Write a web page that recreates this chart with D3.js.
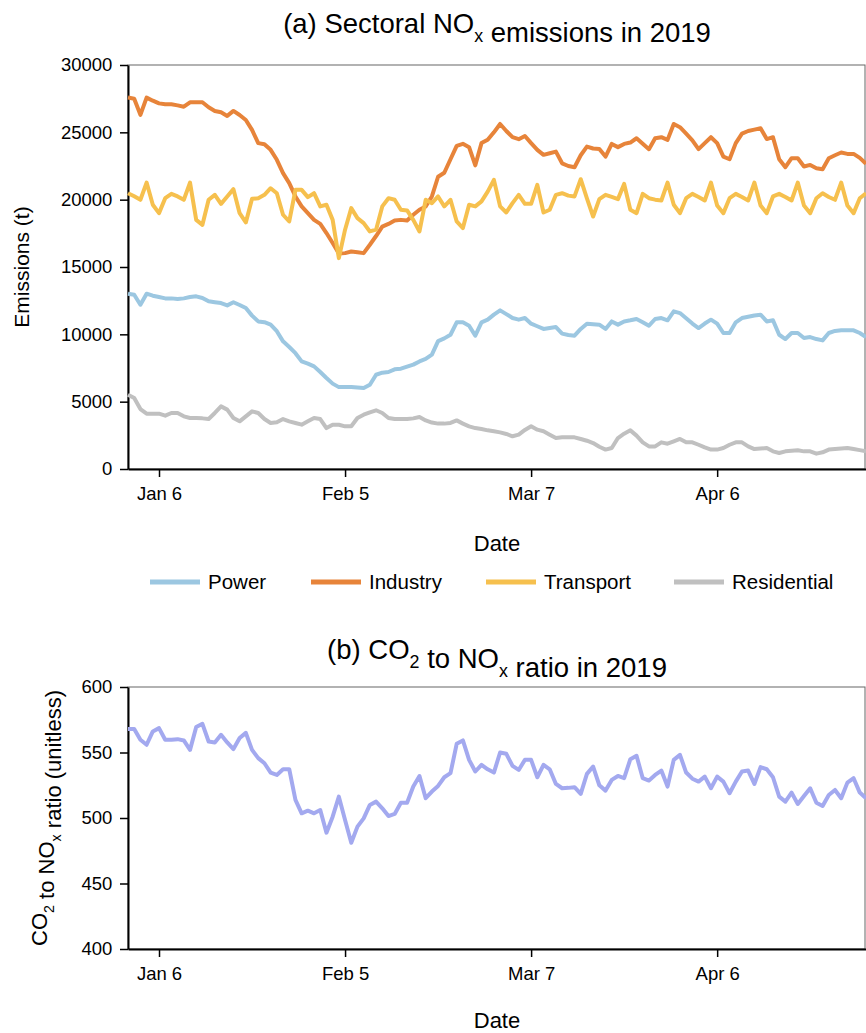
<!DOCTYPE html>
<html>
<head>
<meta charset="utf-8">
<script src="https://cdn.jsdelivr.net/npm/d3@7"></script>
<style>
  body { margin: 0; background: #fff; }
  text { font-family: "Liberation Sans", Arial, sans-serif; fill: #000; }
</style>
</head>
<body>
<svg id="chart" width="866" height="1033"></svg>
<script>
// daily values, 1 Jan 2019 .. 30 Apr 2019
const startDate = new Date(2019, 0, 1)
const endDate = new Date(2019, 4, 1)
const dates = d3.timeDay.range(startDate, endDate)
const tickDates = [new Date(2019, 0, 6), new Date(2019, 1, 5), new Date(2019, 2, 7), new Date(2019, 3, 6)]

const power = [13020, 12940, 12200, 13020, 12870, 12770, 12670, 12670, 12620, 12670,
  12770, 12820, 12700, 12450, 12380, 12320, 12150, 12380, 12180, 11950,
  11390, 10960, 10900, 10720, 10230, 9480, 9060, 8600, 7990, 7820,
  7620, 7200, 6760, 6340, 6080, 6090, 6090, 6050, 6010, 6260,
  7000, 7150, 7200, 7400, 7450, 7600, 7750, 7990, 8170, 8490,
  9500, 9700, 9970, 10890, 10890, 10640, 9900, 10890, 11090, 11460,
  11780, 11500, 11210, 11090, 11210, 10790, 10600, 10400, 10470, 10540,
  10050, 9950, 9900, 10400, 10790, 10750, 10720, 10400, 10960, 10720,
  10960, 11040, 11140, 10900, 10640, 11140, 11210, 11040, 11710, 11580,
  11200, 10800, 10470, 10800, 11090, 10790, 10100, 10100, 10890, 11210,
  11300, 11400, 11460, 10960, 11040, 9970, 9650, 10100, 10100, 9730,
  9800, 9650, 9550, 10100, 10250, 10300, 10300, 10300, 10100, 9800]

const industry = [27580, 27500, 26300, 27580, 27350, 27150, 27080, 27080, 27000, 26900,
  27230, 27230, 27230, 26860, 26590, 26490, 26220, 26590, 26290, 25920,
  25180, 24200, 24120, 23700, 22960, 21970, 21230, 20240, 19500, 19000,
  18500, 18200, 17520, 16780, 16000, 16030, 16150, 16100, 16030, 16650,
  17300, 18000, 18200, 18450, 18500, 18450, 18880, 19250, 19500, 20240,
  21700, 22000, 23000, 24000, 24150, 23900, 22550, 24200, 24450, 25000,
  25620, 25100, 24640, 24490, 24730, 24200, 23700, 23330, 23450, 23570,
  22700, 22500, 22410, 23300, 23940, 23800, 23770, 23200, 24140, 23900,
  24140, 24240, 24560, 24150, 23750, 24560, 24640, 24440, 25620, 25380,
  24900, 24400, 23750, 24200, 24640, 24200, 23200, 23000, 24200, 24900,
  25100, 25200, 25300, 24500, 24640, 23000, 22410, 23080, 23080, 22460,
  22580, 22340, 22260, 23080, 23300, 23500, 23400, 23400, 23100, 22660]

const transport = [20480, 20250, 19990, 21270, 19620, 19000, 20110, 20430, 20240, 19990,
  21270, 18500, 18130, 19990, 20360, 19690, 20240, 20780, 19000, 18310,
  20060, 20110, 20360, 20850, 20480, 18880, 18380, 20730, 20730, 20190,
  20480, 19500, 19620, 18500, 15660, 17770, 19370, 18630, 18260, 17640,
  17770, 19500, 20110, 19990, 19250, 19200, 18500, 17640, 19990, 19740,
  20240, 19500, 19990, 18380, 17890, 19620, 19500, 19870, 20600, 21470,
  19500, 19050, 19740, 20360, 19690, 19690, 21100, 19050, 19250, 20360,
  20480, 20300, 20240, 21520, 20100, 18750, 20040, 20360, 20200, 20040,
  21170, 19250, 19000, 20430, 20110, 20000, 19940, 21270, 19620, 19000,
  20110, 20430, 20200, 19940, 21270, 19570, 19000, 20110, 20430, 20200,
  19940, 21270, 19570, 19000, 20240, 20430, 20200, 19940, 21270, 19570,
  19000, 20110, 20480, 20200, 19990, 21270, 19570, 19000, 20110, 20480]

const residential = [5520, 5270, 4450, 4110, 4110, 4110, 3960, 4160, 4160, 3910,
  3790, 3790, 3760, 3710, 4160, 4650, 4410, 3790, 3540, 3910,
  4280, 4160, 3710, 3420, 3470, 3710, 3540, 3420, 3290, 3540,
  3790, 3710, 3040, 3290, 3290, 3170, 3170, 3790, 4030, 4210,
  4360, 4160, 3790, 3710, 3710, 3710, 3760, 3860, 3610, 3450,
  3370, 3370, 3420, 3610, 3370, 3170, 3040, 2970, 2870, 2800,
  2720, 2600, 2430, 2550, 2900, 3170, 2920, 2800, 2550, 2300,
  2350, 2350, 2350, 2230, 2100, 1930, 1650, 1440, 1560, 2300,
  2620, 2870, 2480, 1980, 1680, 1680, 1980, 1880, 2050, 2230,
  1980, 1980, 1800, 1600, 1440, 1440, 1560, 1800, 1980, 1980,
  1680, 1480, 1520, 1560, 1310, 1190, 1310, 1350, 1390, 1310,
  1310, 1140, 1240, 1440, 1480, 1520, 1560, 1480, 1400, 1310]

const ratio = [567.9, 567.9, 559.7, 555.9, 566.1, 568.6, 559.7, 559.7, 560.2, 559.2,
  552.0, 569.4, 571.9, 558.4, 557.7, 563.5, 557.7, 552.6, 561.0, 565.0,
  552.0, 545.7, 541.8, 534.7, 532.9, 537.2, 537.2, 513.8, 503.6, 505.6,
  503.6, 506.1, 488.8, 501.0, 516.3, 498.5, 481.1, 493.4, 499.7, 510.0,
  512.5, 507.4, 501.5, 503.1, 511.7, 511.7, 524.0, 532.0, 515.1, 520.2,
  524.5, 531.1, 534.2, 556.6, 559.2, 544.4, 535.5, 540.6, 537.2, 534.7,
  550.0, 549.0, 539.8, 536.7, 544.4, 544.4, 531.1, 540.6, 537.2, 526.0,
  522.7, 523.0, 523.5, 518.4, 533.7, 539.3, 525.0, 520.9, 529.1, 532.1,
  530.4, 544.9, 547.5, 530.4, 528.6, 532.9, 536.2, 524.0, 544.4, 548.2,
  534.7, 530.0, 527.8, 531.6, 522.7, 531.6, 527.8, 518.9, 527.8, 535.5,
  536.2, 526.0, 538.8, 537.2, 531.1, 516.3, 512.5, 519.4, 510.7, 516.8,
  522.7, 511.7, 509.2, 517.6, 521.4, 515.1, 527.0, 530.4, 519.4, 515.1]

const sectorNames = ["Power", "Industry", "Transport", "Residential"]
const sectorColors = ["#9cc7e1", "#e7843a", "#f6c04e", "#c0c0c0"]
const sectorSeries = [power, industry, transport, residential]
const emissionTicks = [0, 5000, 10000, 15000, 20000, 25000, 30000]
const ratioTicks = [400, 450, 500, 550, 600]
const ratioColor = "#a3a9ef"

let svg = d3.select("#chart")
let left = 128, right = 866

let x = d3.scaleTime().domain([startDate, dates[dates.length - 1]]).range([left, right])

// text with subscript pieces
function richText(g, parts, size) {
  let t = g.append("text").attr("font-size", size).attr("text-anchor", "middle")
  parts.forEach(p => {
    if (p.sub) {
      t.append("tspan").attr("font-size", size * 0.65).attr("dy", size * 0.32).text(p.sub)
      t.append("tspan").attr("dy", -size * 0.32).text("")
    } else {
      t.append("tspan").text(p.t)
    }
  })
  return t
}

function drawPanel(top, bottom, y, ticks) {
  let g = svg.append("g")
  // frame
  g.append("rect")
    .attr("x", left).attr("y", top)
    .attr("width", right - left - 1).attr("height", bottom - top)
    .attr("fill", "none").attr("stroke", "#666").attr("stroke-width", 1)

  let xg = g.append("g").attr("transform", `translate(0, ${bottom})`)
  xg.call(d3.axisBottom(x).tickValues(tickDates).tickFormat(d3.timeFormat("%b %-d")).tickSize(8).tickSizeOuter(0))
  xg.select(".domain").attr("stroke", "#000").attr("stroke-width", 2)
  xg.selectAll(".tick text").attr("font-size", 18.5).attr("font-family", null).attr("dy", "1.1em")

  let yg = g.append("g").attr("transform", `translate(${left}, 0)`)
  yg.call(d3.axisLeft(y).tickValues(ticks).tickSize(8).tickSizeOuter(0).tickFormat(d3.format("d")))
  yg.select(".domain").attr("stroke", "#000").attr("stroke-width", 2)
  yg.selectAll(".tick text").attr("font-size", 18.5).attr("font-family", null).attr("dx", "-0.25em")
  g.selectAll(".tick line").attr("stroke-width", 1.5)
  g.selectAll(".tick text").style("font-family", '"Liberation Sans", Arial, sans-serif')
  return g
}

// ---- panel (a)
let topA = 65, botA = 469
let yA = d3.scaleLinear().domain([0, 30000]).range([botA, topA])
let pa = drawPanel(topA, botA, yA, emissionTicks)

let line = (yScale) => d3.line().x((d, i) => x(dates[i])).y(d => yScale(d))

sectorSeries.forEach((s, k) => {
  pa.append("path")
    .datum(s)
    .attr("d", line(yA))
    .attr("fill", "none")
    .attr("stroke", sectorColors[k])
    .attr("stroke-width", 4)
    .attr("stroke-linejoin", "round")
})

richText(svg.append("g").attr("transform", "translate(497, 33)"),
  [{ t: "(a) Sectoral NO" }, { sub: "x" }, { t: " emissions in 2019" }], 27.5)

svg.append("text").attr("transform", `translate(29, ${(topA + botA) / 2}) rotate(-90)`)
  .attr("text-anchor", "middle").attr("font-size", 21).text("Emissions (t)")
svg.append("text").attr("x", 497).attr("y", 551)
  .attr("text-anchor", "middle").attr("font-size", 22).text("Date")

// legend
let legendX = [150, 311, 486, 674]
let legend = svg.append("g").attr("transform", "translate(0, 582)")
sectorNames.forEach((n, k) => {
  legend.append("line")
    .attr("x1", legendX[k]).attr("x2", legendX[k] + 50)
    .attr("stroke", sectorColors[k]).attr("stroke-width", 5)
  legend.append("text")
    .attr("x", legendX[k] + 58).attr("y", 7)
    .attr("font-size", 20.5).text(n)
})

// ---- panel (b)
let topB = 687, botB = 949
let yB = d3.scaleLinear().domain([400, 600]).range([botB, topB])
let pb = drawPanel(topB, botB, yB, ratioTicks)

pb.append("path")
  .datum(ratio)
  .attr("d", line(yB))
  .attr("fill", "none")
  .attr("stroke", ratioColor)
  .attr("stroke-width", 4)
  .attr("stroke-linejoin", "round")

richText(svg.append("g").attr("transform", "translate(497, 659)"),
  [{ t: "(b) CO" }, { sub: "2" }, { t: " to NO" }, { sub: "x" }, { t: " ratio in 2019" }], 27.5)

richText(svg.append("g").attr("transform", `translate(47, ${(topB + botB) / 2}) rotate(-90)`),
  [{ t: "CO" }, { sub: "2" }, { t: " to NO" }, { sub: "x" }, { t: " ratio (unitless)" }], 22)

svg.append("text").attr("x", 497).attr("y", 1028)
  .attr("text-anchor", "middle").attr("font-size", 22).text("Date")
</script>
</body>
</html>
